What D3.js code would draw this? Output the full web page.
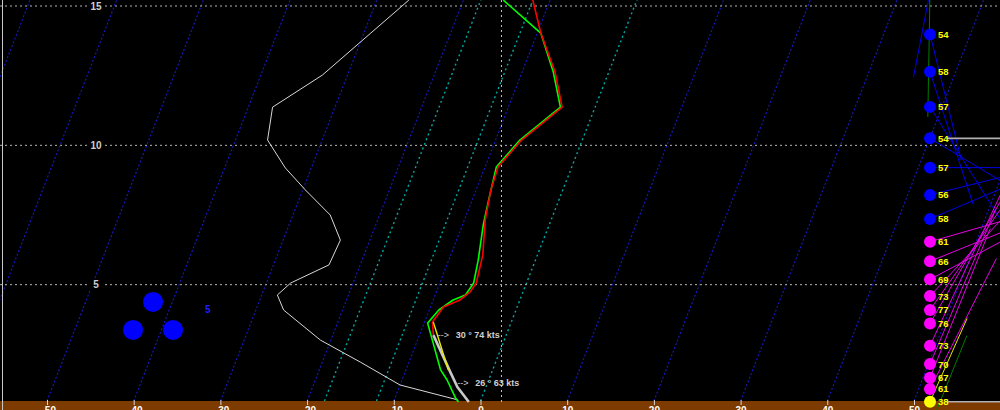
<!DOCTYPE html>
<html><head><meta charset="utf-8">
<script src="https://cdn.jsdelivr.net/npm/d3@7"></script>
<style>html,body{margin:0;padding:0;background:#000;overflow:hidden}svg{display:block}</style>
</head><body>
<svg id="c" width="1000" height="410"></svg>
<script>
// ---------- data ----------
const isotherms = [-90,-80,-70,-60,-50,-40,-30,-20,-10,10,20,30,40,50,60];
const dgzIsotherms = [-18,-12,0];
const tempTicks = [-50,-40,-30,-20,-10,0,10,20,30,40,50];
const altTicks = [5,10,15];
const refTemp = 2.42;

const tempAlt = [3.19,3.66,4.20,4.45,4.74,5.06,6.06,7.32,8.40,9.22,10.19,11.37,12.63,14.03,15.21];
const tempVal = [-8.4,-9.1,-8.5,-6.9,-6.1,-5.8,-6.3,-7.6,-8.3,-8.5,-7.0,-3.8,-6.2,-9.6,-12.0];

const greenAlt = [0.79,0.93,1.58,1.94,3.62,4.09,4.45,4.63,5.06,5.88,7.14,8.04,9.22,10.19,11.37,12.63,14.03,15.21];
const greenVal = [-2.5,-3.0,-4.8,-6.0,-9.6,-8.9,-7.7,-6.5,-6.1,-6.6,-7.6,-8.1,-8.7,-7.2,-4.0,-6.4,-9.6,-15.4];

const ascentAlt = [0.79,1.33,1.87,3.19];
const ascentVal = [-1.3,-3.3,-4.8,-8.4];

const yellowAlt = [1.94,3.66];
const yellowVal = [-5.1,-9.0];

const dewAlt = [0.86,1.40,2.22,3.01,4.09,4.63,5.06,5.71,6.60,7.50,8.40,9.19,10.19,11.37,12.52,14.03,15.21];
const dewVal = [-2.6,-10.0,-15.6,-21.2,-26.8,-28.2,-27.2,-23.6,-23.4,-25.7,-29.7,-33.0,-36.3,-37.2,-32.9,-29.2,-26.3];

const annAlt = [3.19,1.47];
const annTemp = [-7.9,-3.5];
const annText = ["30 \u00b0 74 kts","26 \u00b0 63 kts"];

const windAlt = [13.98,12.64,11.38,10.25,9.20,8.22,7.36,6.54,5.84,5.19,4.59,4.09,3.61,2.81,2.15,1.66,1.26,0.80];
const windSpeed = [54,58,57,54,57,56,58,61,66,69,73,77,76,73,70,67,61,38];
const windKind = ['b','b','b','b','b','b','b','m','m','m','m','m','m','m','m','m','m','y'];
const windAngle = [76,72,58,31,0,-14,-23,-16,-22,-28,-47,-55,-60,-65,-67,-68,-63,-66];

const extraAlt = [15.5,15.5,-0.1];
const extraSpeed = [52,36,41];
const extraAngle = [91,101,-68];
const extraKind = ['g','b','g'];

const markerAlt = [10.25,0.80];

const cloudTemp = -37.77, cloudAlt = 3.71, cloudLabel = "5";

// ---------- scales ----------
const W = 1000, H = 410, yBase = 401, skew = 0.39;
const x = d3.scaleLinear().domain([-50,50]).range([47,914]);
const y = d3.scaleLinear().domain([0,15]).range([424,6]);
const px = (T,h) => x(T) + skew*(yBase - y(h));
const FONT = '"Liberation Sans", Arial, sans-serif';

const svg = d3.select('#c');
svg.append('rect').attr('width',W).attr('height',H).attr('fill','#000');
svg.append('rect').attr('x',0).attr('y',yBase).attr('width',W).attr('height',H-yBase).attr('fill','#7e3b00');

// isotherms
const isoLine = T => `M${x(T)},${yBase}L${x(T)+skew*yBase},0`;
svg.append('g').selectAll('path').data(isotherms).join('path')
  .attr('d',isoLine).attr('stroke','#1818c8').attr('stroke-width',1.1)
  .attr('stroke-dasharray','2,2').attr('fill','none');
svg.append('g').selectAll('path').data(dgzIsotherms).join('path')
  .attr('d',isoLine).attr('stroke','#00a8a8').attr('stroke-width',1.4)
  .attr('stroke-dasharray','2,3').attr('fill','none');

// horizontal grid
svg.append('g').selectAll('line').data(altTicks).join('line')
  .attr('x1',0).attr('x2',W).attr('y1',d=>y(d)).attr('y2',d=>y(d))
  .attr('stroke','#b4b4b4').attr('stroke-width',1).attr('stroke-dasharray','2,3');
// vertical ref line
svg.append('line').attr('x1',x(refTemp)).attr('x2',x(refTemp)).attr('y1',0).attr('y2',yBase+4)
  .attr('stroke','#c0c0c0').attr('stroke-dasharray','2,3');

// left labels
const lab = svg.append('g').selectAll('g').data(altTicks).join('g')
  .attr('transform',d=>`translate(96,${y(d)})`);
lab.append('rect').attr('x',-8).attr('y',-5).attr('width',16).attr('height',10).attr('fill','#000');
lab.append('text').text(d=>d).attr('text-anchor','middle').attr('dy','0.36em')
  .attr('fill','#cfcfcf').attr('font-family',FONT).attr('font-weight','bold').attr('font-size','10px');

// profiles
const line = d3.line().x(d=>px(d[1],d[0])).y(d=>y(d[0]));
const zip = (a,b) => a.map((v,i)=>[v,b[i]]);
function prof(a,b,col,w){
  svg.append('path').attr('d',line(zip(a,b))).attr('fill','none')
    .attr('stroke',col).attr('stroke-width',w).attr('stroke-linejoin','round');
}
prof(dewAlt,dewVal,'#d8d8d8',1);
prof(greenAlt,greenVal,'#00ff00',1.6);
prof(tempAlt,tempVal,'#ff0000',1.6);
prof(ascentAlt,ascentVal,'#c8c8c8',2.6);
prof(yellowAlt,yellowVal,'#e8e800',1.4);

// annotations
const ann = svg.append('g').selectAll('g').data(annAlt).join('g')
  .attr('transform',(d,i)=>`translate(${px(annTemp[i],d)},${y(d)})`);
ann.append('text').text('-->').attr('x',0).attr('dy','0.35em')
  .attr('fill','#d0d0d0').attr('font-family',FONT).attr('font-size','9px');
ann.append('text').text((d,i)=>annText[i]).attr('x',18).attr('dy','0.35em')
  .attr('fill','#d0d0d0').attr('font-family',FONT).attr('font-weight','bold').attr('font-size','9px');

// cloud symbol
const cg = svg.append('g').attr('transform',`translate(${x(cloudTemp)},${y(cloudAlt)})`);
cg.selectAll('circle').data([[0,-18.7],[-20,9.3],[20,9.3]]).join('circle')
  .attr('cx',d=>d[0]).attr('cy',d=>d[1]).attr('r',10).attr('fill','#0000ff');
cg.append('text').text(cloudLabel).attr('x',52).attr('y',-8)
  .attr('fill','#1e1eff').attr('font-family',FONT).attr('font-weight','bold').attr('font-size','10px');

// winds
const windX = 930;
const kindCol = {b:'#0000e6', m:'#e600e6', y:'#e6e600', g:'#007a00'};
const circCol = {b:'#0000ff', m:'#ff00ff', y:'#ffff00'};
const lenK = 2.4;
const wl = svg.append('g');
extraAlt.forEach((h,i)=>{
  const a = extraAngle[i]*Math.PI/180, L = extraSpeed[i]*lenK;
  wl.append('line').attr('x1',windX).attr('y1',y(h))
    .attr('x2',windX+Math.cos(a)*L).attr('y2',y(h)+Math.sin(a)*L)
    .attr('stroke',kindCol[extraKind[i]]).attr('stroke-width',1);
});
windAlt.forEach((h,i)=>{
  const a = windAngle[i]*Math.PI/180, L = windSpeed[i]*lenK;
  wl.append('line').attr('x1',windX).attr('y1',y(h))
    .attr('x2',windX+Math.cos(a)*L).attr('y2',y(h)+Math.sin(a)*L)
    .attr('stroke',kindCol[windKind[i]]).attr('stroke-width',1);
});
svg.append('g').selectAll('line').data(markerAlt).join('line')
  .attr('x1',947).attr('x2',W).attr('y1',d=>y(d)).attr('y2',d=>y(d))
  .attr('stroke','#b0b0b0').attr('stroke-width',1.6);
svg.append('g').selectAll('circle').data(windAlt).join('circle')
  .attr('cx',windX).attr('cy',d=>y(d)).attr('r',6)
  .attr('fill',(d,i)=>circCol[windKind[i]]);
svg.append('g').selectAll('text').data(windAlt).join('text')
  .attr('x',windX+8).attr('y',d=>y(d)).attr('dy','0.36em')
  .text((d,i)=>windSpeed[i])
  .attr('fill','#ffff00').attr('font-family',FONT).attr('font-weight','bold').attr('font-size','9.5px');

// bottom axis
const ax = svg.append('g').attr('transform',`translate(0,${yBase-1})`)
  .call(d3.axisBottom(x).tickValues(tempTicks).tickSize(5).tickFormat(d3.format('d')));
ax.select('.domain').remove();
ax.selectAll('line').attr('stroke','#d8d8d8');
ax.selectAll('text').attr('fill','#ffffff').attr('font-family',FONT)
  .attr('font-weight','bold').attr('font-size','10px').attr('y',7);

// left border
svg.append('line').attr('x1',2.5).attr('x2',2.5).attr('y1',0).attr('y2',H)
  .attr('stroke','#c8c8c8').attr('stroke-width',1);
</script>
</body></html>
